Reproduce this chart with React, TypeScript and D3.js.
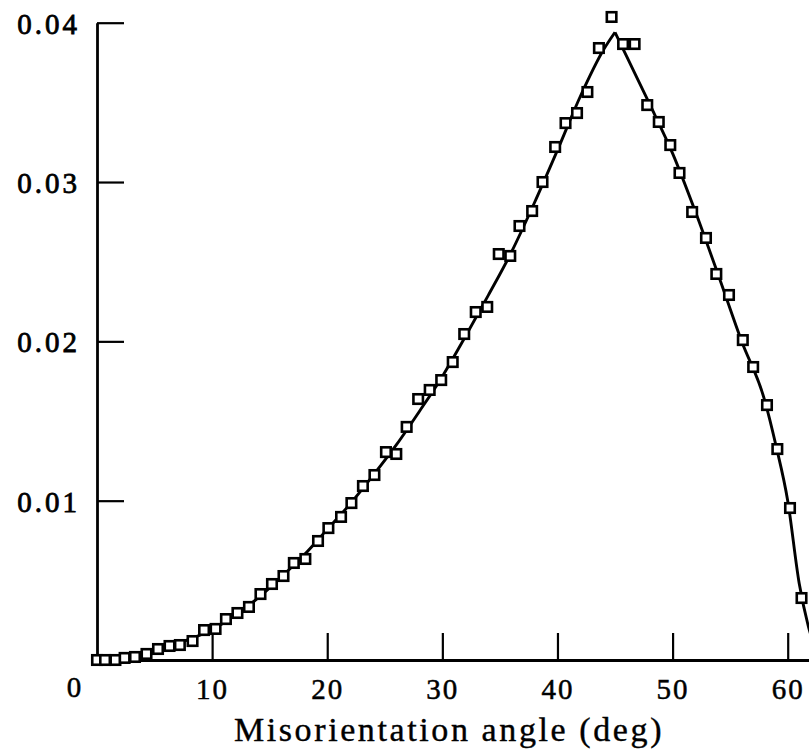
import React, { useRef, useEffect } from 'react';
import * as d3 from 'd3';

// simulated distribution (squares)
const angles = [
    0, 0.7, 1.6, 2.4, 3.3, 4.3, 5.3, 6.3, 7.2, 8.3,
    9.3, 10.3, 11.2, 12.2, 13.2, 14.2, 15.2, 16.2, 17.1, 18.1,
    19.2, 20.1, 21.2, 22.1, 23.1, 24.1, 25.1, 26.0, 26.9, 27.9,
    28.9, 29.9, 30.9, 31.9, 32.9, 33.9, 34.9, 35.9, 36.7, 37.8,
    38.7, 39.8, 40.7, 41.7, 42.6, 43.6, 44.7, 45.7, 46.7, 47.8,
    48.8, 49.8, 50.6, 51.7, 52.9, 53.8, 54.9, 56.1, 57.0, 58.2,
    59.1, 60.2, 61.2,
];
const frequencies = [
    0, 0, 0, 0.00013, 0.00019, 0.00038, 0.00069, 0.00088, 0.00094, 0.00119,
    0.00188, 0.00195, 0.00257, 0.00295, 0.00333, 0.00414, 0.00477, 0.00527, 0.00609, 0.00634,
    0.00747, 0.00828, 0.00898, 0.00985, 0.01092, 0.01161, 0.01305, 0.01293, 0.01463, 0.01638,
    0.01695, 0.01757, 0.0187, 0.02046, 0.02184, 0.02216, 0.02548, 0.02536, 0.02724, 0.02818,
    0.03, 0.0322, 0.0337, 0.03433, 0.03565, 0.03841, 0.04036, 0.03866, 0.03866, 0.03483,
    0.03377, 0.03232, 0.03057, 0.02812, 0.02649, 0.02423, 0.02291, 0.02008, 0.01839, 0.016,
    0.01324, 0.00954, 0.00389,
];

// theoretical curve, rising branch and falling branch (sharp peak at 45)
const riseAngles = [0, 2, 4, 6, 8, 10, 12, 14, 16, 18, 20, 22, 24, 26, 28, 30, 32, 34, 36, 38, 40, 42, 44, 45];
const riseValues = [
    0, 0.0001, 0.0004, 0.0008, 0.0013, 0.0019, 0.0028, 0.0039, 0.0052, 0.0066,
    0.0082, 0.0098, 0.0116, 0.0135, 0.0156, 0.0178, 0.0203, 0.0229, 0.0256, 0.0287,
    0.032, 0.0354, 0.0383, 0.0394,
];
const fallAngles = [45, 46, 48, 50, 52, 54, 56, 58, 59, 60, 61, 61.8, 62.8];
const fallValues = [0.0394, 0.0379, 0.0349, 0.0318, 0.0281, 0.0241, 0.02, 0.0163, 0.0134, 0.01, 0.0048, 0.0021, 0];

const xTicks = [10, 20, 30, 40, 50, 60];
const yTicks = [0.01, 0.02, 0.03, 0.04];

const WIDTH = 809;
const HEIGHT = 750;

const App: React.FC = () => {
    const svgRef = useRef<SVGSVGElement>(null);

    useEffect(() => {
        if (!svgRef.current) return;
        const svg = d3.select(svgRef.current);
        svg.selectAll('*').remove();

        const font = '"Liberation Serif", "Times New Roman", serif';

        const x = d3.scaleLinear().domain([0, 61.85]).range([97, 809]);
        const y = d3.scaleLinear().domain([0, 0.04]).range([660, 22.7]);

        // x axis, ticks pointing up into the plot
        const xAxis = d3.axisBottom(x)
            .tickValues(xTicks)
            .tickSizeInner(-27)
            .tickSizeOuter(0)
            .tickPadding(12)
            .tickFormat(d3.format('d'));
        const gx = svg.append('g')
            .attr('transform', `translate(0,${y(0)})`)
            .call(xAxis);
        gx.select('.domain').attr('stroke', '#000').attr('stroke-width', 2.8);
        gx.selectAll('.tick line').attr('stroke', '#000').attr('stroke-width', 2.2);
        gx.selectAll('.tick text')
            .attr('fill', '#000')
            .attr('font-family', font)
            .attr('font-size', 29)
            .attr('letter-spacing', 2)
            .attr('dy', '0.92em')
            .attr('stroke', '#000')
            .attr('stroke-width', 0.5);

        // y axis, ticks pointing right into the plot
        const yAxis = d3.axisLeft(y)
            .tickValues(yTicks)
            .tickSizeInner(-27)
            .tickSizeOuter(0)
            .tickPadding(17)
            .tickFormat(d3.format('.2f'));
        const gy = svg.append('g')
            .attr('transform', `translate(${x(0)},0)`)
            .call(yAxis);
        gy.select('.domain').attr('stroke', '#000').attr('stroke-width', 2.8);
        gy.selectAll('.tick line').attr('stroke', '#000').attr('stroke-width', 2.2);
        gy.selectAll('.tick text')
            .attr('fill', '#000')
            .attr('font-family', font)
            .attr('font-size', 29)
            .attr('letter-spacing', 3)
            .attr('dy', '0.36em')
            .attr('stroke', '#000')
            .attr('stroke-width', 0.8);

        // shared origin label
        svg.append('text')
            .attr('x', 74)
            .attr('y', 697)
            .attr('text-anchor', 'middle')
            .attr('font-family', font)
            .attr('font-size', 29)
            .attr('stroke', '#000')
            .attr('stroke-width', 0.5)
            .text('0');

        // axis title
        svg.append('text')
            .attr('x', 449)
            .attr('y', 741)
            .attr('text-anchor', 'middle')
            .attr('font-family', font)
            .attr('font-size', 34)
            .attr('letter-spacing', 2.6)
            .attr('stroke', '#000')
            .attr('stroke-width', 0.4)
            .text('Misorientation angle (deg)');

        // theoretical curve
        const line = d3.line<[number, number]>()
            .x(d => x(d[0]))
            .y(d => y(d[1]))
            .curve(d3.curveMonotoneX);
        const rise = riseAngles.map((a, i) => [a, riseValues[i]] as [number, number]);
        const fall = fallAngles.map((a, i) => [a, fallValues[i]] as [number, number]);
        [rise, fall].forEach(seg => {
            svg.append('path')
                .datum(seg)
                .attr('d', line)
                .attr('fill', 'none')
                .attr('stroke', '#000')
                .attr('stroke-width', 2.9);
        });

        // simulated points
        const s = 9.5;
        svg.append('g')
            .selectAll('rect')
            .data(angles.map((a, i) => [a, frequencies[i]]))
            .join('rect')
            .attr('x', d => x(d[0]) - s / 2)
            .attr('y', d => y(d[1]) - s / 2)
            .attr('width', s)
            .attr('height', s)
            .attr('fill', '#fff')
            .attr('stroke', '#000')
            .attr('stroke-width', 2.6);
    }, []);

    return (
        <svg
            ref={svgRef}
            width={WIDTH}
            height={HEIGHT}
            style={{ position: 'absolute', left: 0, top: 0, background: '#fff' }}
        />
    );
};

export default App;
